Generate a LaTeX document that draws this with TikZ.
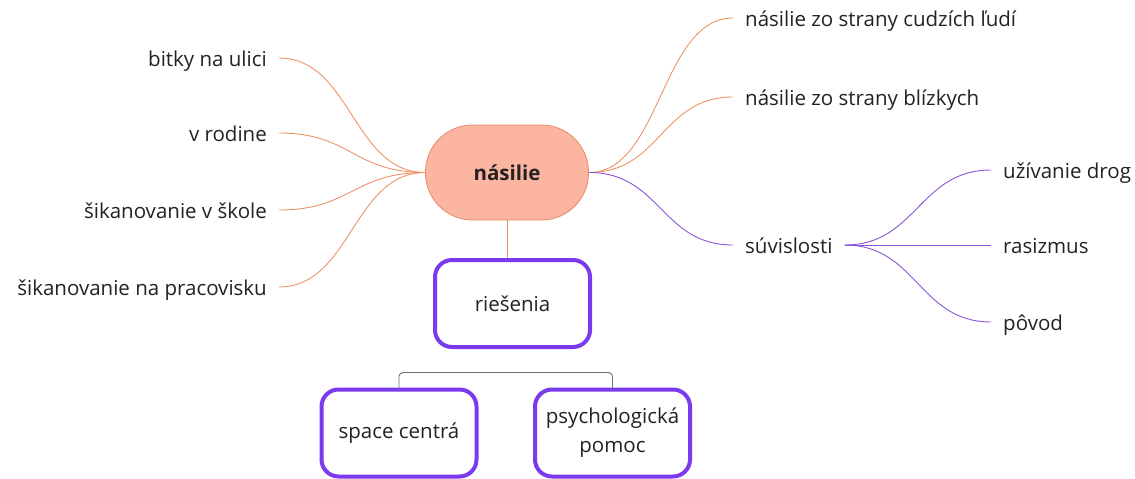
\documentclass[tikz,border=0pt]{standalone}
\usepackage{fontspec}
\setmainfont{Open Sans}
\definecolor{salfill}{HTML}{FBB5A1}
\definecolor{saldraw}{HTML}{E58A6C}
\definecolor{orline}{HTML}{EC9466}
\definecolor{puline}{HTML}{8A55D8}
\definecolor{pubox}{HTML}{7B3AEE}
\definecolor{grline}{HTML}{707070}
\definecolor{txt}{HTML}{222222}
\begin{document}
\begin{tikzpicture}[x=1pt,y=-1pt,
  every node/.style={font=\fontsize{20.5}{29}\selectfont, text=txt},
  leafl/.style={inner xsep=12pt, inner ysep=0pt, text height=21pt, text depth=5pt, anchor=east},
  leafr/.style={inner xsep=12pt, inner ysep=0pt, text height=21pt, text depth=5pt, anchor=west},
  centre/.style={draw=saldraw, fill=salfill, line width=0.8pt, minimum width=163pt, minimum height=95pt, rounded corners=47pt, font=\fontsize{20.5}{29}\selectfont\bfseries},
  solbox/.style={draw=pubox, line width=4pt, rounded corners=17pt, minimum width=155pt, minimum height=87pt, align=center},
  orl/.style={draw=orline, line width=0.9pt},
  pul/.style={draw=puline, line width=0.9pt},
  brk/.style={draw=grline, line width=0.9pt, rounded corners=4pt}
]
\useasboundingbox (0,0) rectangle (1135,479);

\node[centre] (nas) at (507,172.5) {násilie};

% left leaves
\node[leafl] (l1) at (279,58) {bitky na ulici};
\node[leafl] (l2) at (279,133) {v rodine};
\node[leafl] (l3) at (279,210) {šikanovanie v škole};
\node[leafl] (l4) at (279,287) {šikanovanie na pracovisku};

% right leaves
\node[leafr] (r1) at (733,18) {násilie zo strany cudzích ľudí};
\node[leafr] (r2) at (733,97) {násilie zo strany blízkych};
\node[leafr] (r3) at (733,245) {súvislosti};

\node[leafr] (s1) at (991,170) {užívanie drog};
\node[leafr] (s2) at (991,245) {rasizmus};
\node[leafr] (s3) at (991,322) {pôvod};

% boxes
\node[solbox] (ries) at (512.5,303.5) {riešenia};
\node[solbox] (sc) at (399,433) {space centrá};
\node[solbox] (pp) at (612.5,433) {psychologická\\pomoc};

% connectors left
\foreach \n in {l1,l2,l3,l4}
  \draw[orl] (\n.east) .. controls +(72,0) and +(-72,0) .. (nas.west);
% right
\draw[orl] (nas.east) .. controls +(72,0) and +(-72,0) .. (r1.west);
\draw[orl] (nas.east) .. controls +(72,0) and +(-72,0) .. (r2.west);
\draw[pul] (nas.east) .. controls +(72,0) and +(-72,0) .. (r3.west);
\draw[pul] (r3.east) .. controls +(72,0) and +(-72,0) .. (s1.west);
\draw[pul] (r3.east) -- (s2.west);
\draw[pul] (r3.east) .. controls +(72,0) and +(-72,0) .. (s3.west);

% down
\draw[orl] (nas.south) -- (nas.south |- ries.north);
\draw[brk] ([yshift=-2pt]sc.north) -- ++(0,-17) -| ([yshift=-2pt]pp.north);
\end{tikzpicture}
\end{document}
